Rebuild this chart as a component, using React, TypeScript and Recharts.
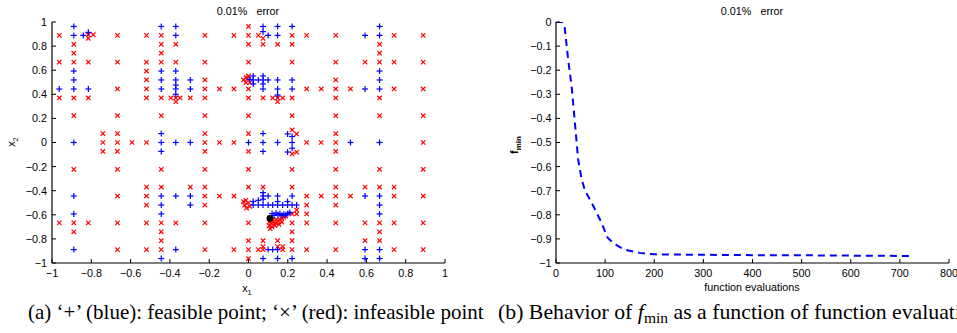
import React from "react"
import { ScatterChart, Scatter, LineChart, Line, XAxis, YAxis } from "recharts"

// (a) sampled points, [x1, x2]
const feasiblePoints: [number, number][] = [
  [-0.889, 0.963], [-0.444, 0.963], [-0.37, 0.963],
  [-0.889, 0.889], [-0.841, 0.889], [-0.815, 0.914], [-0.37, 0.889],
  [-0.889, 0.593], [-0.444, 0.593], [-0.37, 0.593],
  [-0.889, 0.519], [-0.444, 0.519], [-0.37, 0.519], [-0.296, 0.519],
  [-0.963, 0.444], [-0.889, 0.444], [-0.815, 0.444], [-0.444, 0.444], [-0.37, 0.444], [-0.296, 0.444], [-0.37, 0.477], [-0.37, 0.4],
  [-0.444, 0.074],
  [-0.889, 0], [-0.444, 0], [-0.37, 0], [-0.296, 0],
  [-0.444, -0.074],
  [-0.889, -0.444], [-0.444, -0.444], [-0.37, -0.444], [-0.296, -0.444],
  [-0.444, -0.519], [-0.296, -0.519],
  [-0.889, -0.593], [-0.444, -0.593],
  [-0.889, -0.889], [-0.37, -0.889],
  [-0.444, -0.963],
  [0.074, 0.963], [0.148, 0.963], [0.222, 0.963], [0.667, 0.963],
  [0.074, 0.92], [0.1, 0.889], [0.148, 0.889], [0.593, 0.889], [0.667, 0.889],
  [0.667, 0.593],
  [0.007, 0.524], [0.024, 0.552], [0.024, 0.519], [0.024, 0.486], [0.05, 0.519], [0.074, 0.552], [0.074, 0.519], [0.074, 0.486],
  [0.1, 0.519], [0.148, 0.519], [0.222, 0.519], [0.667, 0.519],
  [0.074, 0.444], [0.148, 0.444], [0.222, 0.444], [0.593, 0.444], [0.667, 0.444],
  [0.148, 0.394],
  [0.074, 0.074], [0.199, 0.071], [0.222, 0.049],
  [0, 0], [0.074, 0], [0.148, 0], [0.222, 0], [0.519, 0], [0.667, 0],
  [0.074, -0.074], [0.199, -0.079], [0.222, -0.048],
  [0.074, -0.416], [0.074, -0.444], [0.1, -0.444], [0.148, -0.444], [0.222, -0.444], [0.593, -0.444], [0.667, -0.444],
  [0.024, -0.519], [0.05, -0.519], [0.074, -0.519], [0.1, -0.519], [0.123, -0.519], [0.148, -0.519], [0.174, -0.519],
  [0.199, -0.519], [0.222, -0.519], [0.245, -0.519],
  [0.024, -0.49], [0.05, -0.48], [0.074, -0.47], [0.148, -0.49], [0.199, -0.49], [0.667, -0.519],
  [0.12, -0.59], [0.14, -0.585], [0.16, -0.59], [0.18, -0.595], [0.2, -0.59], [0.13, -0.605], [0.15, -0.6], [0.17, -0.605],
  [0.19, -0.6], [0.21, -0.58],
  [0.667, -0.593],
  [0.1, -0.889], [0.123, -0.889], [0.148, -0.889], [0.593, -0.889], [0.667, -0.889],
  [0.074, -0.963], [0.148, -0.963], [0.222, -0.963], [0.593, -0.963], [0.667, -0.963],
]

const infeasiblePoints: [number, number][] = [
  [-0.963, 0.889], [-0.815, 0.895], [-0.815, 0.865], [-0.79, 0.895], [-0.667, 0.889], [-0.519, 0.889], [-0.444, 0.889],
  [-0.222, 0.889], [-0.074, 0.889],
  [-0.889, 0.815], [-0.444, 0.815], [-0.37, 0.815],
  [-0.889, 0.741], [-0.444, 0.741],
  [-0.963, 0.667], [-0.889, 0.667], [-0.815, 0.667], [-0.667, 0.667], [-0.519, 0.667], [-0.444, 0.667], [-0.37, 0.667], [-0.222, 0.667],
  [-0.519, 0.593],
  [-0.519, 0.519], [-0.222, 0.519],
  [-0.667, 0.444], [-0.519, 0.444], [-0.222, 0.444], [-0.148, 0.444], [-0.074, 0.444],
  [-0.963, 0.37], [-0.889, 0.37], [-0.815, 0.37], [-0.519, 0.37], [-0.444, 0.37], [-0.395, 0.37], [-0.37, 0.37], [-0.348, 0.37],
  [-0.296, 0.37], [-0.222, 0.37], [-0.37, 0.339],
  [-0.889, 0.222], [-0.667, 0.222], [-0.444, 0.222], [-0.222, 0.222],
  [-0.741, 0.074], [-0.667, 0.074], [-0.222, 0.074],
  [-0.741, 0], [-0.667, 0], [-0.593, 0], [-0.519, 0], [-0.222, 0], [-0.148, 0], [-0.074, 0],
  [-0.741, -0.074], [-0.667, -0.074], [-0.222, -0.074],
  [-0.889, -0.222], [-0.667, -0.222], [-0.444, -0.222], [-0.222, -0.222],
  [-0.519, -0.37], [-0.444, -0.37], [-0.296, -0.37], [-0.222, -0.37],
  [-0.667, -0.444], [-0.519, -0.444], [-0.222, -0.444], [-0.148, -0.444], [-0.074, -0.444],
  [-0.519, -0.519], [-0.222, -0.519],
  [-0.963, -0.667], [-0.889, -0.667], [-0.815, -0.667], [-0.667, -0.667], [-0.519, -0.667], [-0.444, -0.667], [-0.37, -0.667], [-0.222, -0.667],
  [-0.889, -0.741], [-0.444, -0.741],
  [-0.444, -0.815],
  [-0.667, -0.889], [-0.519, -0.889], [-0.444, -0.889], [-0.222, -0.889], [-0.074, -0.889],
  [0, 0.963],
  [0, 0.889], [0.05, 0.889], [0.074, 0.864], [0.222, 0.889], [0.296, 0.889], [0.444, 0.889], [0.741, 0.889], [0.889, 0.889],
  [0, 0.815], [0.074, 0.815], [0.148, 0.815], [0.222, 0.815], [0.667, 0.815],
  [0.667, 0.741],
  [0, 0.667], [0.222, 0.667], [0.444, 0.667], [0.593, 0.667], [0.667, 0.667], [0.741, 0.667], [0.889, 0.667],
  [-0.026, 0.519], [-0.013, 0.541], [0, 0.552], [-0.013, 0.497], [0.007, 0.497], [-0.005, 0.53],
  [0.444, 0.519],
  [0, 0.444], [0.296, 0.444], [0.37, 0.444], [0.444, 0.444], [0.519, 0.444], [0.741, 0.444], [0.889, 0.444],
  [0, 0.37], [0.074, 0.37], [0.123, 0.37], [0.148, 0.37], [0.174, 0.37], [0.222, 0.37], [0.444, 0.37], [0.667, 0.37], [0.148, 0.339],
  [0, 0.222], [0.222, 0.222], [0.444, 0.222], [0.667, 0.222], [0.889, 0.222],
  [0, 0.074], [0.222, 0.104], [0.245, 0.071], [0.444, 0.074],
  [0.296, 0], [0.37, 0], [0.444, 0], [0.889, 0],
  [0, -0.074], [0.222, -0.095], [0.245, -0.079], [0.444, -0.074],
  [0, -0.222], [0.222, -0.222], [0.444, -0.222], [0.667, -0.222], [0.889, -0.222],
  [0, -0.37], [0.074, -0.37], [0.222, -0.37], [0.444, -0.37], [0.593, -0.37], [0.667, -0.37], [0.741, -0.37],
  [0.296, -0.444], [0.37, -0.444], [0.444, -0.444], [0.519, -0.444], [0.741, -0.444], [0.889, -0.444],
  [-0.026, -0.49], [-0.013, -0.48], [0, -0.5], [-0.02, -0.52], [0.007, -0.53], [-0.01, -0.545],
  [0.296, -0.519], [0.444, -0.519],
  [0.245, -0.56], [0.222, -0.593], [0.245, -0.593], [0.296, -0.593],
  [0.105, -0.66], [0.115, -0.67], [0.125, -0.66], [0.105, -0.69], [0.12, -0.7], [0.135, -0.69], [0.11, -0.715], [0.14, -0.67],
  [0.15, -0.65], [0.16, -0.64], [0.17, -0.63], [0.18, -0.62], [0.19, -0.61], [0.155, -0.68], [0.17, -0.66], [0.125, -0.64], [0.14, -0.64],
  [0, -0.667], [0.222, -0.667], [0.296, -0.667], [0.444, -0.667], [0.593, -0.667], [0.667, -0.667], [0.741, -0.667], [0.889, -0.667],
  [0.222, -0.741], [0.667, -0.741],
  [0, -0.815], [0.074, -0.815], [0.148, -0.815], [0.222, -0.815], [0.593, -0.815], [0.667, -0.815],
  [0, -0.889], [0.05, -0.889], [0.074, -0.889], [0.074, -0.864], [0.148, -0.864], [0.174, -0.864], [0.174, -0.889], [0.222, -0.889],
  [0.296, -0.889], [0.444, -0.889], [0.741, -0.889], [0.889, -0.889],
  [0, -0.963],
]

const bestPoints: [number, number][] = [[0.109, -0.629]]

// (b) f_min vs function evaluations
const evaluations = [0, 12, 17, 25, 32, 39, 45, 52, 59, 70, 80, 92, 105, 118, 140, 170, 200, 350, 500, 728]
const fminValues = [0, 0, -0.01, -0.16, -0.27, -0.43, -0.57, -0.65, -0.7, -0.74, -0.78, -0.83, -0.895, -0.92, -0.945, -0.958, -0.964, -0.967, -0.968, -0.971]

const xTicksA = [-1, -0.8, -0.6, -0.4, -0.2, 0, 0.2, 0.4, 0.6, 0.8, 1]
const yTicksA = [-1, -0.8, -0.6, -0.4, -0.2, 0, 0.2, 0.4, 0.6, 0.8, 1]
const xTicksB = [0, 100, 200, 300, 400, 500, 600, 700, 800]
const yTicksB = [-1, -0.9, -0.8, -0.7, -0.6, -0.5, -0.4, -0.3, -0.2, -0.1, 0]

const SANS = "'Liberation Sans', Arial, Helvetica, sans-serif"
const SERIF = "'Liberation Serif', 'Times New Roman', serif"
const TICK_FONT = 10.8
const TICK_LEN = 4
const axisLine = { stroke: "#000", strokeWidth: 1.2 }

const fmt = (v: number) => (v < 0 ? "\u2212" + Math.abs(v) : String(v))

const toXY = (pts: [number, number][]) => pts.map(([x, y]) => ({ x, y }))

function BottomTick(props: any) {
  const { x, y, payload } = props
  return (
    <g>
      <line x1={x} x2={x} y1={y} y2={y - TICK_LEN} stroke="#000" />
      <text x={x} y={y + 14.3} textAnchor="middle" fontSize={TICK_FONT} fontFamily={SANS} fill="#000">
        {fmt(payload.value)}
      </text>
    </g>
  )
}

function LeftTick(props: any) {
  const { x, y, payload, gap } = props
  return (
    <g>
      <line x1={x} x2={x + TICK_LEN} y1={y} y2={y} stroke="#000" />
      <text x={x - gap} y={y + 3.9} textAnchor="end" fontSize={TICK_FONT} fontFamily={SANS} fill="#000">
        {fmt(payload.value)}
      </text>
    </g>
  )
}

function TopTick(props: any) {
  const { x, y } = props
  return <line x1={x} x2={x} y1={y} y2={y + TICK_LEN} stroke="#000" />
}

function RightTick(props: any) {
  const { x, y } = props
  return <line x1={x} x2={x - TICK_LEN} y1={y} y2={y} stroke="#000" />
}

function Plus(props: any) {
  const { cx, cy } = props
  const s = 3
  return (
    <g stroke="#0000ff" strokeWidth={1.2}>
      <line x1={cx - s} x2={cx + s} y1={cy} y2={cy} />
      <line x1={cx} x2={cx} y1={cy - s} y2={cy + s} />
    </g>
  )
}

function Cross(props: any) {
  const { cx, cy } = props
  const s = 2.2
  return (
    <g stroke="#ff0000" strokeWidth={1.2}>
      <line x1={cx - s} x2={cx + s} y1={cy - s} y2={cy + s} />
      <line x1={cx - s} x2={cx + s} y1={cy + s} y2={cy - s} />
    </g>
  )
}

function Dot(props: any) {
  const { cx, cy } = props
  return <circle cx={cx} cy={cy} r={3.4} fill="#000" />
}

function PointsChart() {
  return (
    <ScatterChart width={480} height={300} margin={{ top: 22, right: 35, bottom: 0, left: 0 }}>
      <XAxis xAxisId="b" type="number" dataKey="x" domain={[-1, 1]} ticks={xTicksA} allowDataOverflow interval={0}
        height={37} tickSize={0} tickMargin={0} tickLine={false} axisLine={axisLine} tick={(p: any) => <BottomTick {...p} />} />
      <XAxis xAxisId="t" orientation="top" type="number" domain={[-1, 1]} ticks={xTicksA} allowDataOverflow interval={0}
        height={0} tickSize={0} tickMargin={0} tickLine={false} axisLine={axisLine} tick={(p: any) => <TopTick {...p} />} />
      <YAxis yAxisId="l" type="number" dataKey="y" domain={[-1, 1]} ticks={yTicksA} allowDataOverflow interval={0}
        width={52} tickSize={0} tickMargin={0} tickLine={false} axisLine={axisLine} tick={(p: any) => <LeftTick {...p} gap={5} />} />
      <YAxis yAxisId="r" orientation="right" type="number" domain={[-1, 1]} ticks={yTicksA} allowDataOverflow interval={0}
        width={0} tickSize={0} tickMargin={0} tickLine={false} axisLine={axisLine} tick={(p: any) => <RightTick {...p} />} />
      <Scatter xAxisId="b" yAxisId="l" data={toXY(infeasiblePoints)} shape={<Cross />} isAnimationActive={false} />
      <Scatter xAxisId="b" yAxisId="l" data={toXY(feasiblePoints)} shape={<Plus />} isAnimationActive={false} />
      <Scatter xAxisId="b" yAxisId="l" data={toXY(bestPoints)} shape={<Dot />} isAnimationActive={false} />
    </ScatterChart>
  )
}

function FminChart() {
  const data = evaluations.map((x, i) => ({ x, y: fminValues[i] }))
  return (
    <LineChart width={477} height={300} data={data} margin={{ top: 22, right: 8, bottom: 0, left: 0 }}>
      <XAxis xAxisId="b" type="number" dataKey="x" domain={[0, 800]} ticks={xTicksB} allowDataOverflow interval={0}
        height={37} tickSize={0} tickMargin={0} tickLine={false} axisLine={axisLine} tick={(p: any) => <BottomTick {...p} />} />
      <XAxis xAxisId="t" orientation="top" type="number" dataKey="x" domain={[0, 800]} ticks={xTicksB} allowDataOverflow interval={0}
        height={0} tickSize={0} tickMargin={0} tickLine={false} axisLine={axisLine} tick={(p: any) => <TopTick {...p} />} />
      <YAxis yAxisId="l" type="number" domain={[-1, 0]} ticks={yTicksB} allowDataOverflow interval={0}
        width={76} tickSize={0} tickMargin={0} tickLine={false} axisLine={axisLine} tick={(p: any) => <LeftTick {...p} gap={4.5} />} />
      <YAxis yAxisId="r" orientation="right" type="number" domain={[-1, 0]} ticks={yTicksB} allowDataOverflow interval={0}
        width={0} tickSize={0} tickMargin={0} tickLine={false} axisLine={axisLine} tick={(p: any) => <RightTick {...p} />} />
      <Line xAxisId="b" yAxisId="l" type="linear" dataKey="y" stroke="#0000ff" strokeWidth={2} strokeDasharray="7 5"
        dot={false} isAnimationActive={false} />
    </LineChart>
  )
}

export default function App() {
  return (
    <div style={{ position: "absolute", left: 0, top: 0, width: 957, height: 333, background: "#fff", overflow: "hidden" }}>
      <div style={{ position: "absolute", left: 0, top: 0 }}>
        <PointsChart />
      </div>
      <div style={{ position: "absolute", left: 480, top: 0 }}>
        <FminChart />
      </div>
      <svg width={957} height={333} style={{ position: "absolute", left: 0, top: 0, pointerEvents: "none" }}>
        <g fontFamily={SANS} fontSize={TICK_FONT} fill="#000">
          <text x={248} y={15} textAnchor="middle" style={{ whiteSpace: "pre" }}>{"0.01%   error"}</text>
          <text x={752} y={15} textAnchor="middle" style={{ whiteSpace: "pre" }}>{"0.01%   error"}</text>
          <text x={247} y={292} textAnchor="middle">
            x<tspan fontSize={7.5} dy={2.5}>1</tspan>
          </text>
          <text transform="translate(15,142) rotate(-90)" textAnchor="middle">
            x<tspan fontSize={7.5} dy={2.5}>2</tspan>
          </text>
          <text transform="translate(518,145) rotate(-90)" textAnchor="middle" fontWeight="bold">
            f<tspan fontSize={8} dy={3}>min</tspan>
          </text>
          <text x={752} y={291} textAnchor="middle">function evaluations</text>
        </g>
        <g fontFamily={SERIF} fill="#000" style={{ whiteSpace: "pre" }}>
          <text x={28} y={319} fontSize={21}>{"(a)  \u2018+\u2019 (blue): feasible point; \u2018\u00d7\u2019 (red): infeasible point"}</text>
          <text x={498} y={319} fontSize={21.8}>
            {"(b)  Behavior of "}
            <tspan fontStyle="italic">f</tspan>
            <tspan fontSize={15.5} dy={4}>min</tspan>
            <tspan dy={-4}>{" as a function of function evaluations"}</tspan>
          </text>
        </g>
      </svg>
    </div>
  )
}
